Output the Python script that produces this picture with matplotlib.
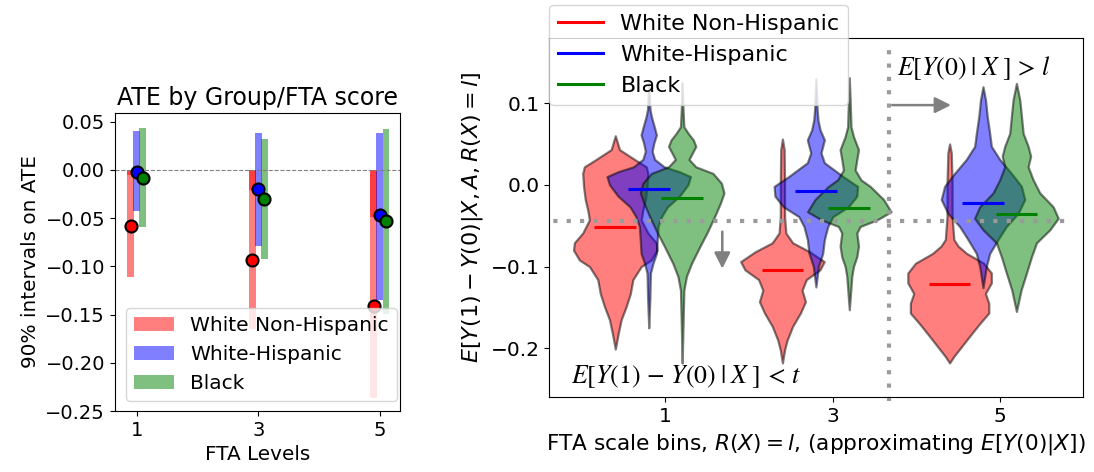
import matplotlib
matplotlib.use('Agg')
import matplotlib.pyplot as plt
from matplotlib.lines import Line2D
import numpy as np

fta_levels = [1, 3, 5]
groups = ['White Non-Hispanic', 'White-Hispanic', 'Black']
colors = ['red', 'blue', 'green']

# left panel: ATE per group and FTA level, with the 90% interval ends
ate_mean = [[-0.058, -0.093, -0.141],
            [-0.002, -0.020, -0.047],
            [-0.008, -0.030, -0.053]]
ate_lower = [[-0.111, -0.165, -0.237],
             [-0.043, -0.079, -0.135],
             [-0.059, -0.092, -0.149]]
ate_upper = [[-0.005, -0.021, -0.049],
             [0.040, 0.038, 0.038],
             [0.043, 0.032, 0.042]]

# right panel: CATE distributions, density profiles
# (y value, relative density) for bins 1, 3, 5
wnh_y = [[0.060, 0.043, 0.031, 0.022, 0.014, -0.002, -0.018, -0.031, -0.043, -0.059,
          -0.071, -0.080, -0.092, -0.100, -0.116, -0.133, -0.149, -0.165, -0.182, -0.201],
         [0.056, 0.043, 0.002, -0.039, -0.059, -0.071, -0.082, -0.094, -0.104, -0.116,
          -0.129, -0.143, -0.157, -0.173, -0.190, -0.202, -0.218],
         [0.050, 0.039, 0.002, -0.039, -0.067, -0.075, -0.084, -0.096, -0.108, -0.120,
          -0.133, -0.145, -0.157, -0.169, -0.182, -0.198, -0.210, -0.218]]
wnh_d = [[0, 0.10, 0.46, 0.74, 0.78, 0.76, 0.72, 0.66, 0.62, 0.78,
          0.98, 1.0, 0.86, 0.62, 0.42, 0.36, 0.26, 0.14, 0.07, 0],
         [0, 0.04, 0.05, 0.05, 0.08, 0.24, 0.64, 0.98, 0.88, 0.56,
          0.46, 0.54, 0.42, 0.24, 0.11, 0.05, 0],
         [0, 0.04, 0.06, 0.06, 0.10, 0.20, 0.40, 0.80, 0.98, 0.98,
          0.84, 0.92, 0.92, 0.72, 0.52, 0.28, 0.10, 0]]
wh_y = [[0.125, 0.092, 0.084, 0.071, 0.061, 0.051, 0.041, 0.031, 0.022, 0.016, 0.010,
         0.000, -0.014, -0.027, -0.039, -0.051, -0.067, -0.084, -0.096, -0.108, -0.141, -0.175],
        [0.130, 0.092, 0.079, 0.067, 0.055, 0.039, 0.027, 0.010, -0.002, -0.014,
         -0.027, -0.039, -0.051, -0.067, -0.084, -0.100, -0.125],
        [0.120, 0.104, 0.084, 0.063, 0.047, 0.031, 0.014, -0.002, -0.018, -0.035,
         -0.051, -0.067, -0.084, -0.100, -0.126]]
wh_d = [[0, 0.03, 0.06, 0.13, 0.18, 0.12, 0.08, 0.14, 0.36, 0.72, 0.98,
         0.92, 0.72, 0.44, 0.30, 0.22, 0.20, 0.18, 0.10, 0.04, 0.025, 0],
        [0, 0.03, 0.05, 0.10, 0.20, 0.12, 0.20, 0.64, 0.98, 0.96,
         0.76, 0.40, 0.28, 0.20, 0.16, 0.06, 0],
        [0, 0.06, 0.10, 0.16, 0.20, 0.40, 0.68, 0.92, 1.0, 0.84,
         0.56, 0.36, 0.16, 0.08, 0]]
blk_y = [[0.125, 0.092, 0.071, 0.063, 0.055, 0.047, 0.039, 0.031, 0.022, 0.014, 0.002,
          -0.010, -0.022, -0.039, -0.059, -0.075, -0.096, -0.112, -0.129, -0.161, -0.218],
         [0.131, 0.104, 0.071, 0.059, 0.043, 0.031, 0.018, 0.006, -0.002, -0.018,
          -0.033, -0.043, -0.051, -0.059, -0.075, -0.088, -0.100, -0.112, -0.153],
         [0.124, 0.104, 0.084, 0.063, 0.047, 0.035, 0.022, 0.006, -0.010, -0.027,
          -0.041, -0.055, -0.071, -0.088, -0.108, -0.129, -0.155]]
blk_d = [[0, 0.02, 0.04, 0.14, 0.26, 0.32, 0.24, 0.16, 0.32, 0.72, 0.92,
          0.98, 0.90, 0.76, 0.58, 0.42, 0.22, 0.10, 0.04, 0.025, 0],
         [0, 0.02, 0.04, 0.10, 0.22, 0.18, 0.14, 0.28, 0.50, 0.82,
          1.0, 0.66, 0.26, 0.18, 0.22, 0.18, 0.10, 0.06, 0],
         [0, 0.08, 0.12, 0.16, 0.28, 0.34, 0.28, 0.40, 0.56, 0.88,
          1.0, 0.80, 0.48, 0.36, 0.24, 0.11, 0]]
cate_mean = [[-0.052, -0.104, -0.121],
             [-0.005, -0.008, -0.022],
             [-0.016, -0.028, -0.036]]

fig = plt.figure(figsize=(10.94, 4.72), dpi=100)

# ---- left: interval bars
ax1 = fig.add_axes([0.105, 0.1292, 0.2605, 0.6314])
bar_off = [-0.1, 0.0, 0.1]
for i in range(3):
    xs = [l + bar_off[i] for l in fta_levels]
    ax1.bar(xs, ate_upper[i], width=0.11, color=colors[i], alpha=0.5, label=groups[i])
    ax1.bar(xs, ate_lower[i], width=0.11, color=colors[i], alpha=0.5)
for i in range(3):
    xs = [l + bar_off[i] for l in fta_levels]
    ax1.scatter(xs, ate_mean[i], s=75, color=colors[i], edgecolor='black', linewidth=1.5, zorder=3)
ax1.axhline(0, color='gray', ls='--', lw=0.8)
ax1.set_xlim(0.64, 5.33)
ax1.set_ylim(-0.25, 0.059)
ax1.set_xticks(fta_levels)
ax1.set_yticks([-0.25, -0.2, -0.15, -0.1, -0.05, 0.0, 0.05])
ax1.tick_params(labelsize=14)
ax1.set_title('ATE by Group/FTA score', fontsize=17)
ax1.set_xlabel('FTA Levels', fontsize=14.4)
ax1.set_ylabel('90% intervals on ATE', fontsize=14.4)
ax1.legend(loc='lower right', bbox_to_anchor=(0.989, 0.034), borderaxespad=0, fontsize=14.5)

# ---- right: violins
ax2 = fig.add_axes([0.5021, 0.1583, 0.4881, 0.7619])
vio_off = [-0.6, -0.2, 0.2]
profiles = [(wnh_y, wnh_d), (wh_y, wh_d), (blk_y, blk_d)]
for i, (ys, ds) in enumerate(profiles):
    stats = []
    for y, d, m in zip(ys, ds, cate_mean[i]):
        stats.append(dict(coords=np.array(y), vals=np.array(d, dtype=float), mean=m,
                          median=m, min=min(y), max=max(y)))
    parts = ax2.violin(stats, positions=[l + vio_off[i] for l in fta_levels], widths=1.0,
                       showmeans=True, showextrema=False)
    for pc in parts['bodies']:
        pc.set_facecolor(colors[i])
        pc.set_edgecolor('black')
        pc.set_alpha(0.5)
        pc.set_linewidth(1.6)
    parts['cmeans'].set_color(colors[i])
    parts['cmeans'].set_linewidth(2.2)

dots = (0, (1, 2.2))
ax2.plot([-0.5, 5.88], [-0.044, -0.044], ls=dots, lw=3, color='#9a9a9a')
ax2.plot([3.68, 3.68], [-0.265, 0.165], ls=dots, lw=3, color='#9a9a9a', clip_on=False)
ax2.annotate('', xy=(1.68, -0.106), xytext=(1.68, -0.054),
             arrowprops=dict(arrowstyle='-|>', color='gray', lw=1.8, mutation_scale=24))
ax2.annotate('', xy=(4.45, 0.0975), xytext=(3.68, 0.0975),
             arrowprops=dict(arrowstyle='-|>', color='gray', lw=1.8, mutation_scale=24))
ax2.text(-0.13, -0.243, r'$E[Y(1)\,-\,Y(0)\;|\;X\;]\,<\,t$', fontsize=18.5, math_fontfamily='stix')
ax2.text(3.77, 0.1346, r'$E[Y(0)\;|\;X\;]\,>\,l$', fontsize=18.5, math_fontfamily='stix')

ax2.set_xlim(-0.39, 6.0)
ax2.set_ylim(-0.26, 0.18)
ax2.set_xticks(fta_levels)
ax2.set_yticks([-0.2, -0.1, 0.0, 0.1])
ax2.tick_params(labelsize=14.5)
ax2.set_xlabel(r'FTA scale bins, $R(X)=l$, (approximating $E[Y(0)|X]$)', fontsize=15.6)
ax2.set_ylabel(r'$E[Y(1)-Y(0)|X,A,R(X)=l]$', fontsize=16)
handles = [Line2D([0], [0], color=c, lw=2.2) for c in colors]
ax2.legend(handles, groups, loc='upper left', bbox_to_anchor=(0.0, 1.091), borderaxespad=0,
           fontsize=16)

fig.savefig('out.png', dpi=100)
